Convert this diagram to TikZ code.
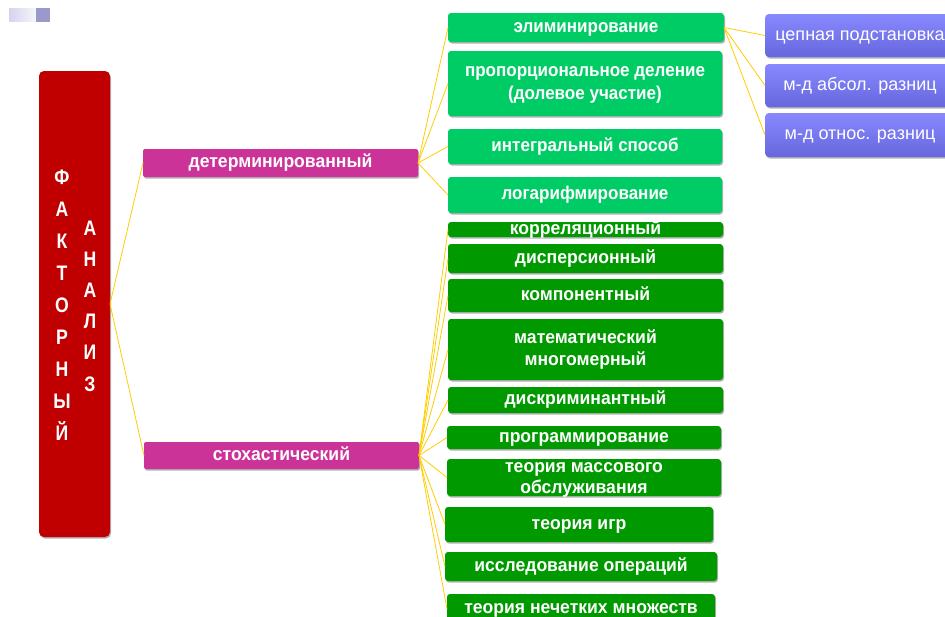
\documentclass[tikz,border=0pt]{standalone}
\usepackage{fontspec}
\setmainfont{Liberation Sans}
\newfontfamily\narrowA{Liberation Sans}[FakeStretch=0.92]
\newfontfamily\narrowB{Liberation Sans}[FakeStretch=0.95]
\newfontfamily\narrowC{Liberation Sans}[FakeStretch=0.84]
\usetikzlibrary{shadows}
\definecolor{cRed}{HTML}{C00000}
\definecolor{cMag}{HTML}{CC3399}
\definecolor{cLGreen}{HTML}{00CC66}
\definecolor{cDGreen}{HTML}{009900}
\definecolor{cPTop}{HTML}{8888FF}
\definecolor{cPBot}{HTML}{6666DD}
\definecolor{cGold}{HTML}{FFCC00}
\definecolor{cDecoA}{HTML}{D4D4EC}
\definecolor{cDecoB}{HTML}{F6F6FB}
\definecolor{cDecoC}{HTML}{9999CC}
\begin{document}
\begin{tikzpicture}[x=1pt,y=-1pt,
  shad/.style={drop shadow={shadow xshift=1pt,shadow yshift=-1.5pt,opacity=0.3,fill=black}},
  boxbase/.style={anchor=north west, inner sep=0pt, outer sep=0pt, text=white, align=center, shad},
  oneline/.style={text height=12.2pt, text depth=2.6pt},
  redbox/.style={boxbase, fill=cRed, rounded corners=5pt},
  magbox/.style={boxbase, oneline, font=\narrowB\fontsize{18.5}{21}\selectfont\bfseries, fill=cMag, rounded corners=2pt},
  lgbox/.style={boxbase, font=\narrowA\fontsize{18.5}{23}\selectfont\bfseries, fill=cLGreen, rounded corners=3pt},
  dgbox/.style={boxbase, font=\narrowB\fontsize{18.5}{22}\selectfont\bfseries, fill=cDGreen, rounded corners=3pt},
  pbox/.style={boxbase, oneline, top color=cPTop, bottom color=cPBot, rounded corners=4pt, font=\fontsize{18}{21}\selectfont},
  conn/.style={draw=cGold, line width=0.8pt},
  letters/.style={text=white, align=center, anchor=base, inner sep=0pt}
]
\useasboundingbox (0,0) rectangle (945,616);
% decoration
\fill[left color=cDecoA, right color=cDecoB] (9,8) rectangle (36,21);
\fill[cDecoC] (36,8) rectangle (50,22);

% root
\node[redbox, minimum width=71pt, minimum height=466pt] (red) at (39,71) {};
\node[letters, font=\narrowC\fontsize{21}{32}\selectfont\bfseries] (t1) at (62,440.7) {Ф\\А\\К\\Т\\О\\Р\\Н\\Ы\\Й};
\node[letters, font=\narrowC\fontsize{21}{31.2}\selectfont\bfseries] (t2) at (90,391) {А\\Н\\А\\Л\\И\\З};

% level 1
\node[magbox, minimum width=275pt, minimum height=28pt] (det) at (143,149) {детерминированный};
\node[magbox, minimum width=275pt, minimum height=27pt] (sto) at (144,442) {стохастический};

% deterministic children
\node[lgbox, oneline, minimum width=276pt, minimum height=29pt] (g1) at (448,13) {элиминирование};
\node[lgbox, minimum width=274pt, minimum height=65pt, text height=48.7pt, text depth=16.3pt] (g2) at (448,51) {пропорциональное деление\\(долевое участие)};
\node[lgbox, oneline, minimum width=274pt, minimum height=35pt] (g3) at (448,129) {интегральный способ};
\node[lgbox, oneline, minimum width=274pt, minimum height=36pt] (g4) at (448,177) {логарифмирование};

% methods of elimination
\node[pbox, minimum width=190pt, minimum height=43pt] (p1) at (765,14) {цепная подстановка};
\node[pbox, minimum width=190pt, minimum height=43pt] (p2) at (765,64) {м-д абсол. разниц};
\node[pbox, minimum width=190pt, minimum height=44pt] (p3) at (765,113) {м-д относ. разниц};

% stochastic children
\node[dgbox, minimum width=275pt, minimum height=15pt, text height=12pt, text depth=3pt] (s1) at (448,222) {корреляционный};
\node[dgbox, oneline, minimum width=275pt, minimum height=29pt] (s2) at (448,244) {дисперсионный};
\node[dgbox, oneline, minimum width=275pt, minimum height=33pt] (s3) at (448,279) {компонентный};
\node[dgbox, minimum width=275pt, minimum height=61pt, text height=46.7pt, text depth=14.3pt] (s4) at (448,319) {математический\\многомерный};
\node[dgbox, oneline, minimum width=275pt, minimum height=26pt] (s5) at (448,387) {дискриминантный};
\node[dgbox, oneline, minimum width=274pt, minimum height=23pt] (s6) at (447,426) {программирование};
\node[dgbox, minimum width=274pt, minimum height=37pt, text height=34.5pt, text depth=2.5pt, font=\narrowB\fontsize{18.5}{21}\selectfont\bfseries] (s7) at (447,459) {теория массового\\обслуживания};
\node[dgbox, oneline, minimum width=268pt, minimum height=35pt] (s8) at (445,507) {теория игр};
\node[dgbox, oneline, minimum width=272pt, minimum height=29pt] (s9) at (445,552) {исследование операций};
\node[dgbox, oneline, minimum width=268pt, minimum height=30pt] (s10) at (447,594) {теория нечетких множеств};

% connectors
\draw[conn] (red.east) -- (det.west);
\draw[conn] (red.east) -- (sto.west);
\foreach \n in {g1,g2,g3,g4} \draw[conn] (det.east) -- (\n.west);
\foreach \n in {p1,p2,p3} \draw[conn] (g1.east) -- (\n.west);
\foreach \n in {s1,s2,s3,s4,s5,s6,s7,s8,s9,s10} \draw[conn] (sto.east) -- (\n.west);
\end{tikzpicture}
\end{document}
